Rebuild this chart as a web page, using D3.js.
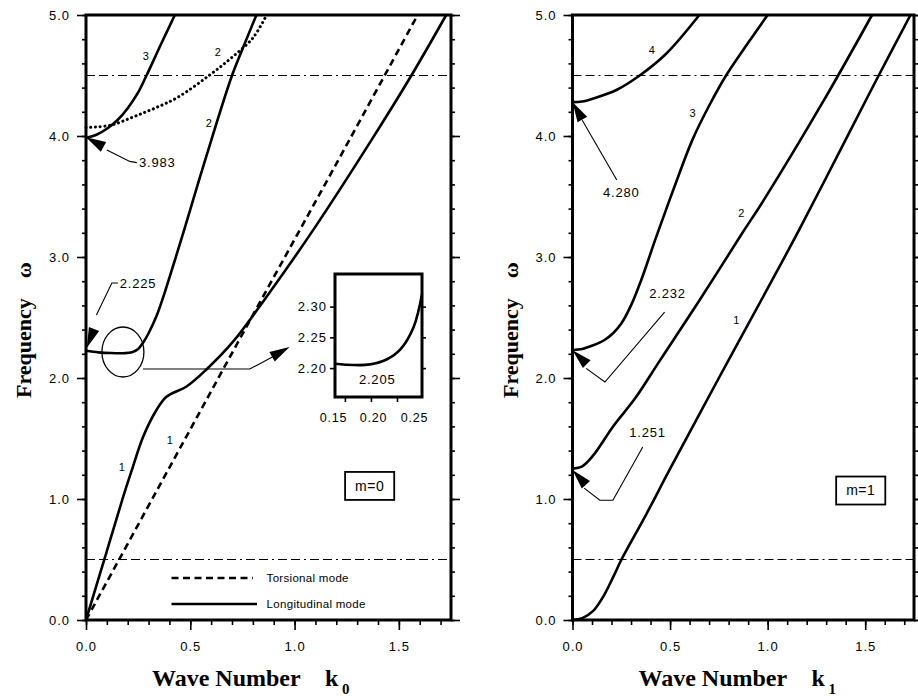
<!DOCTYPE html>
<html>
<head>
<meta charset="utf-8">
<script src="https://cdn.jsdelivr.net/npm/d3@7/dist/d3.min.js"></script>
<style>
  body { margin: 0; background: #fff; }
  svg text { font-family: "Liberation Sans", Arial, sans-serif; fill: #000; }
  .tick text { font-size: 13px; letter-spacing: 1px; fill: #000; }
  .tick line { stroke: #000; stroke-width: 1.6; }
  .title { font-family: "Liberation Serif", "Times New Roman", serif !important; font-weight: bold; }
</style>
</head>
<body>
<div id="chart"></div>
<script>
// ---- m = 0 (left panel): wave number k0, frequency w ----
var m0_tors1_k = [0, 0.4, 0.8, 1.2, 1.59];
var m0_tors1_w = [0, 1.26, 2.52, 3.77, 5.0];
var m0_tors2_k = [0, 0.12, 0.23, 0.33, 0.44, 0.59, 0.70, 0.80, 0.866];
var m0_tors2_w = [4.07, 4.09, 4.16, 4.23, 4.32, 4.5, 4.65, 4.81, 5.0];
var m0_long1_k = [0, 0.1, 0.175, 0.22, 0.274, 0.338, 0.386, 0.482, 0.577, 0.705, 0.865, 1.088, 1.37, 1.56, 1.727];
var m0_long1_w = [0, 0.57, 1.0, 1.24, 1.515, 1.736, 1.845, 1.93, 2.07, 2.30, 2.67, 3.22, 3.97, 4.5, 5.0];
var m0_long2_k = [0, 0.06, 0.12, 0.18, 0.22, 0.25, 0.273, 0.30, 0.34, 0.38, 0.42, 0.47, 0.58, 0.70, 0.76, 0.817];
var m0_long2_w = [2.225, 2.212, 2.206, 2.205, 2.212, 2.24, 2.29, 2.37, 2.52, 2.72, 2.94, 3.22, 3.85, 4.5, 4.76, 5.0];
var m0_long3_k = [0, 0.05, 0.1, 0.15, 0.2, 0.25, 0.29, 0.36, 0.426];
var m0_long3_w = [3.983, 4.01, 4.06, 4.13, 4.23, 4.36, 4.5, 4.76, 5.0];

// inset (zoom of longitudinal mode 2 near its minimum)
var inset_k = [0.131, 0.166, 0.198, 0.23, 0.256, 0.282, 0.298];
var inset_w = [2.207, 2.205, 2.206, 2.214, 2.23, 2.267, 2.32];
var inset_kTicks = [0.15, 0.20, 0.25];
var inset_wTicks = [2.20, 2.25, 2.30];

// ---- m = 1 (right panel): wave number k1 ----
var m1_c1_k = [0, 0.05, 0.106, 0.16, 0.21, 0.251, 0.38, 0.497, 0.75, 1.0, 1.16, 1.40, 1.569, 1.732];
var m1_c1_w = [0, 0.015, 0.075, 0.2, 0.36, 0.50, 0.88, 1.24, 2.0, 2.74, 3.22, 3.97, 4.5, 5.0];
var m1_c2_k = [0, 0.05, 0.106, 0.208, 0.32, 0.45, 0.65, 0.871, 0.98, 1.29, 1.535];
var m1_c2_w = [1.251, 1.27, 1.36, 1.60, 1.83, 2.15, 2.64, 3.2, 3.47, 4.3, 5.0];
var m1_c3_k = [0, 0.05, 0.106, 0.16, 0.208, 0.25, 0.30, 0.35, 0.43, 0.52, 0.615, 0.70, 0.787, 0.90, 1.0];
var m1_c3_w = [2.232, 2.24, 2.27, 2.31, 2.37, 2.45, 2.60, 2.80, 3.17, 3.57, 3.97, 4.25, 4.5, 4.77, 5.0];
var m1_c4_k = [0, 0.05, 0.106, 0.225, 0.344, 0.48, 0.65];
var m1_c4_w = [4.28, 4.285, 4.31, 4.38, 4.5, 4.68, 5.0];

// axis ticks and reference lines
var xMajor = [0, 0.5, 1.0, 1.5];
var xMinor = d3.range(0, 1.751, 0.1);
var yMajor = [0, 1, 2, 3, 4, 5];
var yMinor = d3.range(0, 5.01, 0.2);
var refLines = [0.5, 4.5];

var svg = d3.select('#chart').append('svg')
    .attr('width', 918)
    .attr('height', 700);
svg.append('rect').attr('width', 918).attr('height', 700).attr('fill', '#fff');

var fmt1 = d3.format('.1f');

function makePanel(left, right, sub) {
  var x = d3.scaleLinear().domain([0, 1.75]).range([left, right]);
  var y = d3.scaleLinear().domain([0, 5]).range([620, 15]);
  var g = svg.append('g');

  // ticks (outward) on left, right and bottom
  g.append('g').attr('transform', 'translate(' + left + ',0)')
    .call(d3.axisLeft(y).tickValues(yMajor).tickSize(9).tickPadding(7).tickFormat(fmt1));
  g.append('g').attr('transform', 'translate(' + left + ',0)')
    .call(d3.axisLeft(y).tickValues(yMinor).tickSize(4).tickFormat(''));
  g.append('g').attr('transform', 'translate(' + right + ',0)')
    .call(d3.axisRight(y).tickValues(yMajor).tickSize(9).tickFormat(''));
  g.append('g').attr('transform', 'translate(' + right + ',0)')
    .call(d3.axisRight(y).tickValues(yMinor).tickSize(4).tickFormat(''));
  g.append('g').attr('transform', 'translate(0,620)')
    .call(d3.axisBottom(x).tickValues(xMajor).tickSize(10).tickPadding(12).tickFormat(fmt1));
  g.append('g').attr('transform', 'translate(0,620)')
    .call(d3.axisBottom(x).tickValues(xMinor).tickSize(5).tickFormat(''));
  g.selectAll('.domain').remove();

  // dash-dot reference lines
  g.selectAll('.ref').data(refLines).enter().append('line')
    .attr('x1', x(0)).attr('x2', x(1.75))
    .attr('y1', d => y(d)).attr('y2', d => y(d))
    .attr('stroke', '#000').attr('stroke-width', 1.1)
    .attr('stroke-dasharray', '9,4,9,4,2,4');

  // titles
  var yt = g.append('text').attr('class', 'title')
    .attr('transform', 'translate(' + (left - 55) + ',398) rotate(-90)')
    .style('font-size', '22px');
  yt.append('tspan').text('Frequency');
  yt.append('tspan').attr('dx', 20).text('\u03c9');

  g.append('text').attr('class', 'title').attr('x', left + 66).attr('y', 686)
    .style('font-size', '24px').text('Wave Number');
  g.append('text').attr('class', 'title').attr('x', left + 239).attr('y', 686)
    .style('font-size', '24px').text('k');
  g.append('text').attr('class', 'title').attr('x', left + 256).attr('y', 694)
    .style('font-size', '15px').text(sub);

  return {g: g, x: x, y: y, left: left, right: right};
}

function drawCurve(p, ks, ws, dash, width) {
  var line = d3.line()
    .x(d => p.x(d[0]))
    .y(d => p.y(d[1]))
    .curve(d3.curveCatmullRom.alpha(0.5));
  var path = p.g.append('path')
    .datum(d3.zip(ks, ws))
    .attr('d', line)
    .attr('fill', 'none')
    .attr('stroke', '#000')
    .attr('stroke-width', width || 2.6);
  if (dash) path.attr('stroke-dasharray', dash);
  return path;
}

function label(p, k, w, txt, size, anchor) {
  return p.g.append('text')
    .attr('x', p.x(k)).attr('y', p.y(w))
    .attr('dy', '0.35em')
    .attr('text-anchor', anchor || 'middle')
    .style('font-size', (size || 11) + 'px')
    .text(txt);
}

// filled arrow head at tip, pointing away from "from" (both given in data units)
function arrowHead(p, tipK, tipW, fromK, fromW) {
  var tx = p.x(tipK), ty = p.y(tipW);
  var fx = p.x(fromK), fy = p.y(fromW);
  var a = Math.atan2(ty - fy, tx - fx);
  var L = 20, H = 5.5;
  var bx = tx - L * Math.cos(a), by = ty - L * Math.sin(a);
  var pts = [[tx, ty],
    [bx + H * Math.sin(a), by - H * Math.cos(a)],
    [bx - H * Math.sin(a), by + H * Math.cos(a)]];
  p.g.append('path').attr('d', 'M' + pts.join('L') + 'Z').attr('fill', '#000');
}

function leader(p, pts, width, dash) {
  var path = p.g.append('path')
    .attr('d', d3.line().x(d => p.x(d[0])).y(d => p.y(d[1]))(pts))
    .attr('fill', 'none').attr('stroke', '#000').attr('stroke-width', width || 1.1);
  if (dash) path.attr('stroke-dasharray', dash);
  return path;
}

function modeBox(p, k, w, txt) {
  var cx = p.x(k), cy = p.y(w);
  var bg = p.g.append('g');
  var r = bg.append('rect');
  var t = bg.append('text').attr('x', cx).attr('y', cy).attr('dy', '0.35em')
    .attr('text-anchor', 'middle').style('font-size', '14px').style('letter-spacing', '0.5px').text(txt);
  var bb = t.node().getBBox();
  r.attr('x', bb.x - 10).attr('y', cy - 14).attr('width', bb.width + 20).attr('height', 28)
    .attr('fill', '#fff').attr('stroke', '#000').attr('stroke-width', 1.8);
}

// ================= left panel, m = 0 =================
var L = makePanel(86, 451, '0');
drawCurve(L, m0_tors1_k, m0_tors1_w, '7,4.5', 2.6);
drawCurve(L, m0_tors2_k, m0_tors2_w, '0.1,4.6', 3).attr('stroke-linecap', 'round');
drawCurve(L, m0_long1_k, m0_long1_w);
drawCurve(L, m0_long2_k, m0_long2_w);
drawCurve(L, m0_long3_k, m0_long3_w);

label(L, 0.287, 4.66, '3');
label(L, 0.632, 4.69, '2');
label(L, 0.589, 4.11, '2');
label(L, 0.172, 1.26, '1');
label(L, 0.402, 1.49, '1');

// 3.983 annotation
leader(L, [[0.1, 3.885], [0.21, 3.79], [0.244, 3.78]]);
arrowHead(L, 0, 3.99, 0.21, 3.79);
label(L, 0.254, 3.78, '3.983', 13, 'start').style('letter-spacing', '0.8px');

// 2.225 annotation
leader(L, [[0.05, 2.52], [0.124, 2.785], [0.153, 2.785]]);
arrowHead(L, 0.004, 2.25, 0.124, 2.785);
label(L, 0.162, 2.785, '2.225', 13, 'start').style('letter-spacing', '0.8px');

// circle around the minimum and callout to the inset
L.g.append('ellipse')
  .attr('cx', L.x(0.177)).attr('cy', L.y(2.215))
  .attr('rx', 21).attr('ry', 25)
  .attr('fill', 'none').attr('stroke', '#000').attr('stroke-width', 1.3);
leader(L, [[0.273, 2.074], [0.785, 2.074], [0.9, 2.18]]);
arrowHead(L, 0.976, 2.256, 0.785, 2.074);

// legend
leader(L, [[0.41, 0.347], [0.8, 0.347]], 2.6, '7,4.5');
leader(L, [[0.41, 0.132], [0.82, 0.132]], 2.6);
label(L, 0.866, 0.347, 'Torsional mode', 11.5, 'start').style('letter-spacing', '0.3px');
label(L, 0.866, 0.132, 'Longitudinal mode', 11.5, 'start').style('letter-spacing', '0.3px');

modeBox(L, 1.36, 1.108, 'm=0');

// inset
var ix = d3.scaleLinear().domain([0.131, 0.298]).range([335, 422]);
var iy = d3.scaleLinear().domain([2.153, 2.353]).range([397, 274]);
var ig = L.g.append('g');
ig.append('rect').attr('x', 335).attr('y', 274).attr('width', 87).attr('height', 123)
  .attr('fill', '#fff');
ig.append('g').attr('transform', 'translate(335,0)')
  .call(d3.axisLeft(iy).tickValues(inset_wTicks).tickSize(5).tickPadding(3).tickFormat(d3.format('.2f')));
ig.append('g').attr('transform', 'translate(422,0)')
  .call(d3.axisRight(iy).tickValues(inset_wTicks).tickSize(4).tickFormat(''));
var ixAxis = ig.append('g').attr('transform', 'translate(0,397)')
  .call(d3.axisBottom(ix).tickValues(inset_kTicks).tickSize(5).tickPadding(11).tickFormat(d3.format('.2f')));
// the printed inset labels sit spread a little wider than their ticks
ixAxis.selectAll('.tick text').attr('dx', (d, i) => [-12, 2, 17][i])
  .style('font-size', '12.5px').style('letter-spacing', '0.8px');
ig.selectAll('.domain').remove();
ig.append('path').datum(d3.zip(inset_k, inset_w))
  .attr('d', d3.line().x(d => ix(d[0])).y(d => iy(d[1])).curve(d3.curveCatmullRom.alpha(0.5)))
  .attr('fill', 'none').attr('stroke', '#000').attr('stroke-width', 2.6);
ig.append('rect').attr('x', 335).attr('y', 274).attr('width', 87).attr('height', 123)
  .attr('fill', 'none').attr('stroke', '#000').attr('stroke-width', 3);
ig.append('text').attr('x', ix(0.212)).attr('y', iy(2.181)).attr('dy', '0.35em')
  .attr('text-anchor', 'middle').style('font-size', '13px').style('letter-spacing', '0.8px')
  .text('2.205');

L.g.append('rect').attr('x', 86).attr('y', 15).attr('width', 365).attr('height', 605)
  .attr('fill', 'none').attr('stroke', '#000').attr('stroke-width', 3);

// ================= right panel, m = 1 =================
var R = makePanel(572.5, 914, '1');
drawCurve(R, m1_c1_k, m1_c1_w);
drawCurve(R, m1_c2_k, m1_c2_w);
drawCurve(R, m1_c3_k, m1_c3_w);
drawCurve(R, m1_c4_k, m1_c4_w);

label(R, 0.406, 4.71, '4');
label(R, 0.615, 4.19, '3');
label(R, 0.865, 3.36, '2');
label(R, 0.84, 2.48, '1');

// 4.280
leader(R, [[0.05, 4.13], [0.227, 3.636]]);
arrowHead(R, 0, 4.28, 0.227, 3.636);
label(R, 0.25, 3.53, '4.280', 13).style('letter-spacing', '0.8px');

// 2.232
leader(R, [[0.07, 2.08], [0.166, 1.967], [0.472, 2.545]]);
arrowHead(R, 0, 2.23, 0.166, 1.967);
label(R, 0.487, 2.70, '2.232', 13).style('letter-spacing', '0.8px');

// 1.251
leader(R, [[0.06, 1.09], [0.14, 0.99], [0.207, 0.99], [0.36, 1.43]]);
arrowHead(R, 0, 1.24, 0.14, 0.99);
label(R, 0.385, 1.55, '1.251', 13).style('letter-spacing', '0.8px');

modeBox(R, 1.477, 1.07, 'm=1');

R.g.append('rect').attr('x', 572.5).attr('y', 15).attr('width', 341.5).attr('height', 605)
  .attr('fill', 'none').attr('stroke', '#000').attr('stroke-width', 3);
</script>
</body>
</html>
